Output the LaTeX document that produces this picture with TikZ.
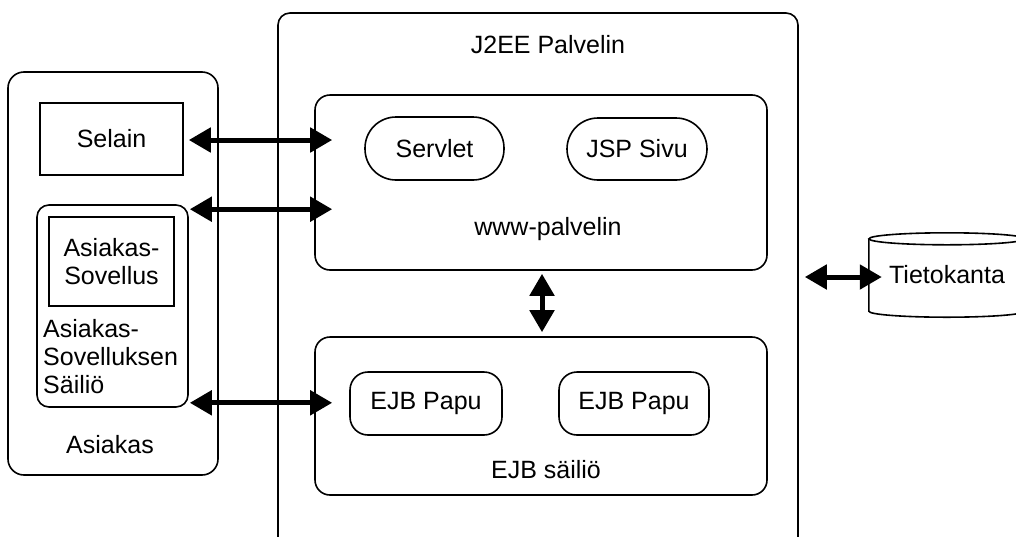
\documentclass[tikz,border=0pt]{standalone}
\usepackage{fontspec}
\setmainfont{Liberation Sans}
\usetikzlibrary{arrows.meta,calc}
\begin{document}
\begin{tikzpicture}[x=1pt,y=-1pt,
  every node/.style={font=\fontsize{25}{28}\selectfont, inner sep=0pt},
  box/.style={draw, line width=1.6pt, rounded corners=#1},
  box/.default=15pt,
  plain/.style={draw, line width=1.6pt},
  lbl/.style={inner sep=0pt},
  link/.style={line width=5pt,
    {Triangle[length=22pt,width=24pt]}-{Triangle[length=22pt,width=24pt]}}]
\useasboundingbox (0,0) rectangle (1016,536);
\fill[white] (0,0) rectangle (1016,536);
\clip (0,0) rectangle (1016,536);

% client side
\node[box=16pt, minimum width=210pt, minimum height=403pt] (asiakas) at (113,273.5) {};
\node[plain, minimum width=143pt, minimum height=72pt] (selain) at (111.5,139) {Selain};
\node[box=12pt, minimum width=151pt, minimum height=202pt] (sailio) at (112.5,306) {};
\node[draw, line width=2.8pt, minimum width=125pt, minimum height=89pt, align=center] (sovellus) at (111.5,261.5) {Asiakas-\\Sovellus};
\node[lbl, align=left, anchor=north west] (sailiolbl) at (43,319) {Asiakas-\\Sovelluksen\\Säiliö};
\node[lbl] (asiakaslbl) at (110,445) {Asiakas};

% J2EE server
\node[box=12pt, minimum width=520pt, minimum height=560pt] (j2ee) at (538,293) {};
\node[lbl] (j2eelbl) at (548,45) {J2EE Palvelin};

\node[box=15pt, minimum width=452pt, minimum height=175pt] (www) at (541,182.5) {};
\node[box=31pt, minimum width=139pt, minimum height=63pt] (servlet) at (434.5,148.5) {Servlet};
\node[box=31pt, minimum width=140pt, minimum height=62pt] (jsp) at (637,149) {JSP Sivu};
\node[lbl] (wwwlbl) at (548,229) {www-palvelin};

\node[box=15pt, minimum width=452pt, minimum height=158pt] (ejb) at (541,416) {};
\node[box=18pt, minimum width=152pt, minimum height=63pt] (papu1) at (426,403.5) {EJB Papu};
\node[box=18pt, minimum width=150pt, minimum height=63pt] (papu2) at (634,403.5) {EJB Papu};
\node[lbl] (ejblbl) at (546,470) {EJB säiliö};

% database
\node[minimum width=156pt, minimum height=72pt] (db) at (947,275) {Tietokanta};
\draw[line width=1.6pt] (db.north west) -- (db.south west)
  arc[start angle=180, end angle=360, x radius=78pt, y radius=6pt] -- (db.north east);
\draw[line width=1.6pt] (db.north) ellipse [x radius=78pt, y radius=6pt];

% connections
\draw[link] ($(selain.east)+(5pt,-1pt)$) -- ($(selain.east -| www.west)+(18pt,-1pt)$);
\draw[link] ($(sailio.north east)+(1pt,-5pt)$) -- ($(sailio.north east -| www.west)+(18pt,-5pt)$);
\draw[link] ($(sailio.south east)+(1pt,5pt)$) -- ($(sailio.south east -| ejb.west)+(18pt,5pt)$);
\draw[link] ($(www.south)+(1pt,-3pt)$) -- ($(ejb.north)+(1pt,4pt)$);
\draw[link] ($(db.west -| j2ee.east)+(6pt,-2pt)$) -- ($(db.west)+(13pt,-2pt)$);
\end{tikzpicture}
\end{document}
